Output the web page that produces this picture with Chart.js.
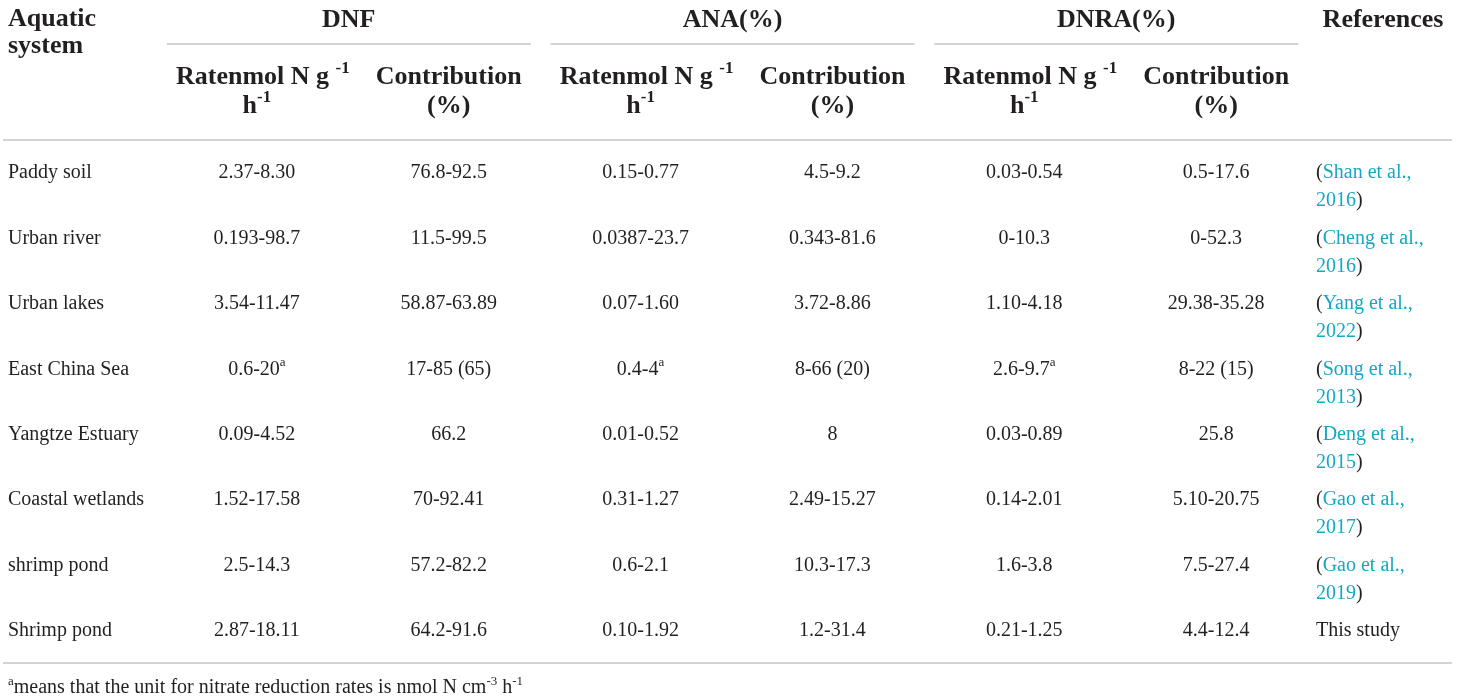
<!DOCTYPE html>
<html>
<head>
<meta charset="utf-8">
<script src="https://cdn.jsdelivr.net/npm/chart.js@4"></script>
<style>
  html, body { margin: 0; padding: 0; background: #ffffff; }
  #wrap { width: 1460px; height: 700px; position: relative; }
</style>
</head>
<body>
<div id="wrap"><canvas id="chart__table"></canvas></div>
<script>
// table content; "^" toggles superscript on and off
const columns = ['system', 'dnfRate', 'dnfContribution', 'anaRate', 'anaContribution', 'dnraRate', 'dnraContribution', 'references'];
const systems = ['Paddy soil', 'Urban river', 'Urban lakes', 'East China Sea', 'Yangtze Estuary', 'Coastal wetlands', 'shrimp pond', 'Shrimp pond'];
const dnfRate = ['2.37-8.30', '0.193-98.7', '3.54-11.47', '0.6-20^a', '0.09-4.52', '1.52-17.58', '2.5-14.3', '2.87-18.11'];
const dnfContribution = ['76.8-92.5', '11.5-99.5', '58.87-63.89', '17-85 (65)', '66.2', '70-92.41', '57.2-82.2', '64.2-91.6'];
const anaRate = ['0.15-0.77', '0.0387-23.7', '0.07-1.60', '0.4-4^a', '0.01-0.52', '0.31-1.27', '0.6-2.1', '0.10-1.92'];
const anaContribution = ['4.5-9.2', '0.343-81.6', '3.72-8.86', '8-66 (20)', '8', '2.49-15.27', '10.3-17.3', '1.2-31.4'];
const dnraRate = ['0.03-0.54', '0-10.3', '1.10-4.18', '2.6-9.7^a', '0.03-0.89', '0.14-2.01', '1.6-3.8', '0.21-1.25'];
const dnraContribution = ['0.5-17.6', '0-52.3', '29.38-35.28', '8-22 (15)', '25.8', '5.10-20.75', '7.5-27.4', '4.4-12.4'];
const refAuthors = ['Shan et al.,', 'Cheng et al.,', 'Yang et al.,', 'Song et al.,', 'Deng et al.,', 'Gao et al.,', 'Gao et al.,', null];
const refYears = ['2016', '2016', '2022', '2013', '2015', '2017', '2019', null];
const groups = [
    { title: 'DNF', rate: 'dnfRate', contribution: 'dnfContribution' },
    { title: 'ANA(%)', rate: 'anaRate', contribution: 'anaContribution' },
    { title: 'DNRA(%)', rate: 'dnraRate', contribution: 'dnraContribution' },
];
const rateHeader = ['Ratenmol N g ^-1', 'h^-1'];
const contributionHeader = ['Contribution', '(%)'];
const footnote = '^a^means that the unit for nitrate reduction rates is nmol N cm^-3^ h^-1';

const valuesByColumn = { dnfRate, dnfContribution, anaRate, anaContribution, dnraRate, dnraContribution };

const INK = '#231f20';
const LINK = '#14a8c6';
const RULE = '#c4c4c4';
const SERIF = '"Liberation Serif", "DejaVu Serif", serif';

// "abc^x^def" -> [{t:'abc'},{t:'x',sup:true},{t:'def'}]; a lone ^ runs to the end
function parseRich(str) {
    const parts = str.split('^');
    return parts.map((t, i) => ({ t, sup: i % 2 === 1 })).filter(p => p.t.length);
}

function drawRich(ctx, str, x, y, align, size, bold, color) {
    const segs = parseRich(str);
    const weight = bold ? 'bold ' : '';
    const supSize = Math.round(size * 0.64);
    let total = 0;
    segs.forEach(s => {
        ctx.font = weight + (s.sup ? supSize : size) + 'px ' + SERIF;
        s.w = ctx.measureText(s.t).width;
        total += s.w;
    });
    let cx = align === 'center' ? x - total / 2 : x;
    ctx.fillStyle = color;
    ctx.textAlign = 'left';
    ctx.textBaseline = 'middle';
    segs.forEach(s => {
        ctx.font = weight + (s.sup ? supSize : size) + 'px ' + SERIF;
        ctx.fillText(s.t, cx, s.sup ? y - size * 0.34 : y);
        cx += s.w;
    });
}

function rule(ctx, x1, x2, y) {
    ctx.save();
    ctx.strokeStyle = RULE;
    ctx.lineWidth = 1.3;
    ctx.beginPath();
    ctx.moveTo(x1, y);
    ctx.lineTo(x2, y);
    ctx.stroke();
    ctx.restore();
}

const tablePlugin = {
    id: 'tablePlugin',
    afterDraw(chart) {
        const ctx = chart.ctx;
        const xs = chart.scales.x;
        const ys = chart.scales.y;
        const colX = key => xs.getPixelForValue(columns.indexOf(key));
        const W = chart.width;
        const H = 26;

        ctx.save();
        // header
        drawRich(ctx, 'Aquatic', colX('system') - 57, 19, 'left', H, true, INK);
        drawRich(ctx, 'system', colX('system') - 57, 46, 'left', H, true, INK);
        groups.forEach(g => {
            const mid = (colX(g.rate) + colX(g.contribution)) / 2 - 4;
            drawRich(ctx, g.title, mid, 20, 'center', H, true, INK);
            rule(ctx, mid - 182, mid + 182, 44);
            drawRich(ctx, rateHeader[0], colX(g.rate) + 6, 77, 'center', H, true, INK);
            drawRich(ctx, rateHeader[1], colX(g.rate), 106, 'center', H, true, INK);
            drawRich(ctx, contributionHeader[0], colX(g.contribution), 77, 'center', H, true, INK);
            drawRich(ctx, contributionHeader[1], colX(g.contribution), 106, 'center', H, true, INK);
        });
        drawRich(ctx, 'References', colX('references') - 25, 20, 'center', H, true, INK);
        rule(ctx, 3, W - 8, 140);

        // body rows
        systems.forEach((name, i) => {
            const y = ys.getPixelForValue(i);
            drawRich(ctx, name, colX('system') - 57, y, 'left', 20, false, INK);
            Object.keys(valuesByColumn).forEach(key => {
                drawRich(ctx, valuesByColumn[key][i], colX(key), y, 'center', 20, false, INK);
            });
            const rx = colX('references') - 92;
            if (refAuthors[i]) {
                ctx.font = '20px ' + SERIF;
                const pw = ctx.measureText('(').width;
                const yw = ctx.measureText(refYears[i]).width;
                drawRich(ctx, '(', rx, y, 'left', 20, false, INK);
                drawRich(ctx, refAuthors[i], rx + pw, y, 'left', 20, false, LINK);
                drawRich(ctx, refYears[i], rx, y + 28, 'left', 20, false, LINK);
                drawRich(ctx, ')', rx + yw, y + 28, 'left', 20, false, INK);
            } else {
                drawRich(ctx, 'This study', rx, y, 'left', 20, false, INK);
            }
        });

        rule(ctx, 3, W - 8, 663);
        drawRich(ctx, footnote, 8, 688, 'left', 20, false, INK);
        ctx.restore();
    }
};

new Chart(
    document.getElementById('chart__table'),
    {
        type: 'scatter',
        data: { datasets: [] },
        options: {
            responsive: true,
            maintainAspectRatio: false,
            animation: false,
            layout: { padding: { left: 65, right: 52, top: 173, bottom: 69 } },
            plugins: { legend: { display: false }, tooltip: { enabled: false } },
            scales: {
                x: { type: 'category', labels: columns, offset: false, display: false },
                y: { type: 'category', labels: systems, offset: false, display: false },
            },
        },
        plugins: [tablePlugin],
    }
);
</script>
</body>
</html>
